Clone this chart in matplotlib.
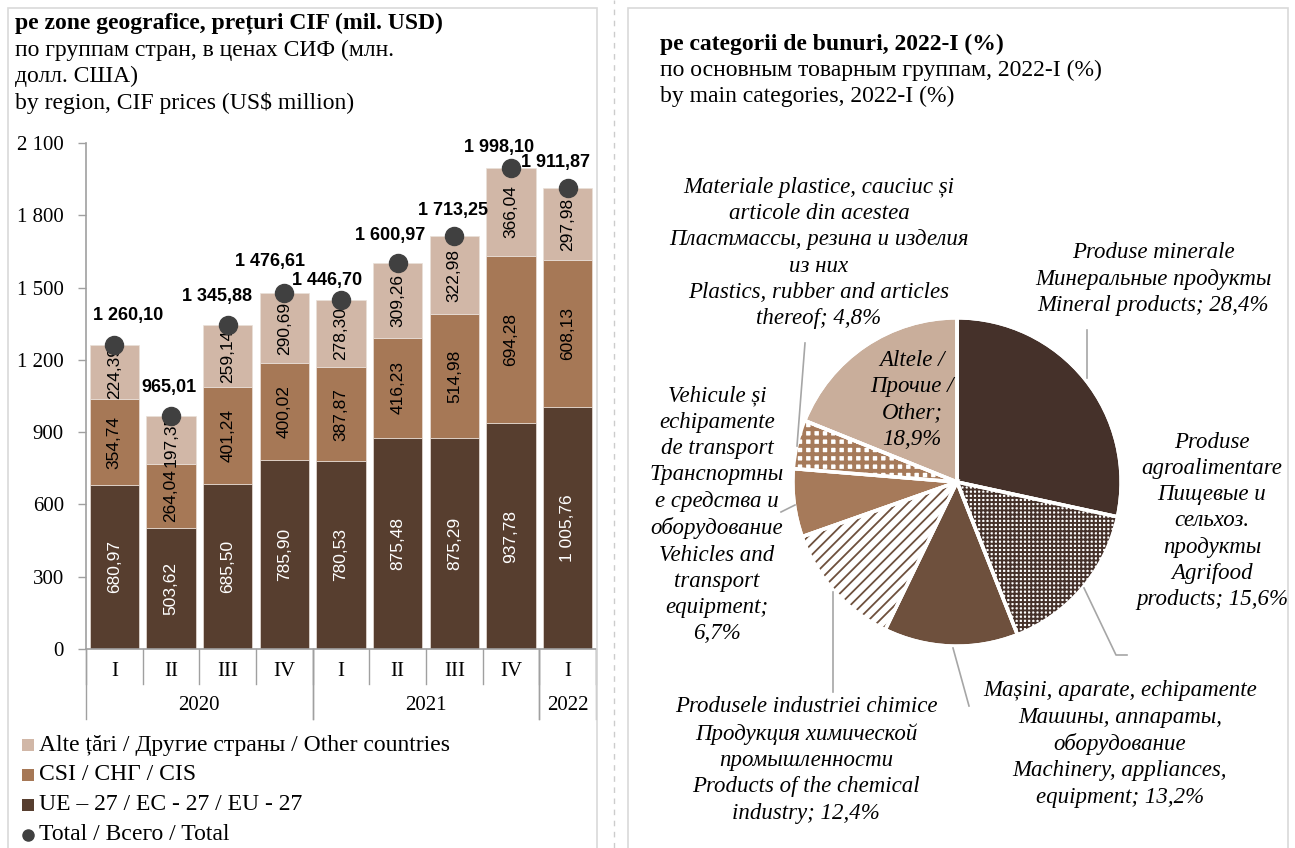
import numpy as np
import matplotlib
matplotlib.use('Agg')
import matplotlib.pyplot as plt
from matplotlib.patches import Rectangle
from matplotlib.lines import Line2D

#data - left chart (mil. USD)
quarters = ['I', 'II', 'III', 'IV', 'I', 'II', 'III', 'IV', 'I']
years = ['2020', '2021', '2022']
year_spans = [(0, 4), (4, 8), (8, 9)]
eu = [680.97, 503.62, 685.50, 785.90, 780.53, 875.48, 875.29, 937.78, 1005.76]
cis = [354.74, 264.04, 401.24, 400.02, 387.87, 416.23, 514.98, 694.28, 608.13]
other = [224.39, 197.35, 259.14, 290.69, 278.30, 309.26, 322.98, 366.04, 297.98]
total = [1260.10, 965.01, 1345.88, 1476.61, 1446.70, 1600.97, 1713.25, 1998.10, 1911.87]
legend_labels = ['Alte țări / Другие страны / Other countries', 'CSI / СНГ / CIS',
                 'UE – 27 / ЕС - 27 / EU - 27', 'Total / Всего / Total']

#data - right chart (%)
pie_shares = [28.4, 15.6, 13.2, 12.4, 6.7, 4.8, 18.9]
pie_labels = [
    'Produse minerale\nМинеральные продукты\nMineral products; 28,4%',
    'Produse\nagroalimentare\nПищевые и\nсельхоз.\nпродукты\nAgrifood\nproducts; 15,6%',
    'Mașini, aparate, echipamente\nМашины, аппараты,\nоборудование\nMachinery, appliances,\nequipment; 13,2%',
    'Produsele industriei chimice\nПродукция химической\nпромышленности\nProducts of the chemical\nindustry; 12,4%',
    'Vehicule și\nechipamente\nde transport\nТранспортны\nе средства и\nоборудование\nVehicles and\ntransport\nequipment;\n6,7%',
    'Materiale plastice, cauciuc și\narticole din acestea\nПластмассы, резина и изделия\nиз них\nPlastics, rubber and articles\nthereof; 4,8%',
    'Altele /\nПрочие /\nOther;\n18,9%',
]

c_eu, c_cis, c_other, c_tot = '#573e2f', '#a67856', '#d1b7a7', '#404040'
pie_colors = ['#45312a', '#45312a', '#6e503d', '#6e503d', '#a67a5a', '#a67a5a', '#c9ae9b']
pie_hatch = [None, '++++', None, '///', None, '++', None]
pie_hatch_lw = [0, 1.4, 0, 1.3, 0, 2.8, 0]

serif = ['Liberation Serif', 'DejaVu Serif']
narrow = ['Liberation Sans Narrow', 'Liberation Sans', 'DejaVu Sans']
W, H = 1295, 848
fs_title, fs_tick, fs_leg, fs_pie = 17, 15, 17, 16.5


def fmt(v, dec=2):
    s = f'{v:,.{dec}f}'
    return s.replace(',', ' ').replace('.', ',')


def fx(x):
    return x / W


def fy(y):
    return 1 - y / H


fig = plt.figure(figsize=(W / 100, H / 100), dpi=100)

#panel frames
fig.add_artist(Rectangle((fx(8), fy(852)), fx(589), 844 / H, fill=False, edgecolor='#d9d9d9', lw=1.2))
fig.add_artist(Rectangle((fx(628), fy(852)), fx(660), 844 / H, fill=False, edgecolor='#d9d9d9', lw=1.2))
fig.add_artist(Line2D([fx(614), fx(614)], [0, 1], color='#cccccc', lw=1, ls=(0, (4, 4))))

#titles
fig.text(fx(15), fy(23), 'pe zone geografice, prețuri CIF (mil. USD)', family=serif, fontsize=fs_title,
         fontweight='bold', va='center')
fig.text(fx(15), fy(50), 'по группам стран, в ценах СИФ (млн.', family=serif, fontsize=fs_title, va='center')
fig.text(fx(15), fy(76), 'долл. США)', family=serif, fontsize=fs_title, va='center')
fig.text(fx(15), fy(103), 'by region, CIF prices (US$ million)', family=serif, fontsize=fs_title, va='center')
fig.text(fx(660), fy(44), 'pe categorii de bunuri, 2022-I (%)', family=serif, fontsize=fs_title,
         fontweight='bold', va='center')
fig.text(fx(660), fy(70), 'по основным товарным группам, 2022-I (%)', family=serif, fontsize=fs_title, va='center')
fig.text(fx(660), fy(96), 'by main categories, 2022-I (%)', family=serif, fontsize=fs_title, va='center')

#stacked bars
ax = fig.add_axes([fx(86), fy(649), 510 / W, 506 / H])
x = np.arange(len(quarters))
eu_a, cis_a, oth_a = np.array(eu), np.array(cis), np.array(other)
bw = 0.87
ax.bar(x, eu_a, bw, color=c_eu, edgecolor='#e9e0d9', lw=0.5)
ax.bar(x, cis_a, bw, bottom=eu_a, color=c_cis, edgecolor='#e9e0d9', lw=0.5)
ax.bar(x, oth_a, bw, bottom=eu_a + cis_a, color=c_other, edgecolor='#e9e0d9', lw=0.5)
for i in range(len(x)):
    ax.text(x[i], eu_a[i] / 2, fmt(eu_a[i]), rotation=90, ha='center', va='center',
            color='white', family=narrow, fontsize=12.5)
    ax.text(x[i], eu_a[i] + cis_a[i] / 2, fmt(cis_a[i]), rotation=90, ha='center', va='center',
            color='black', family=narrow, fontsize=12.5)
    ax.text(x[i], eu_a[i] + cis_a[i] + oth_a[i] / 2, fmt(oth_a[i]), rotation=90, ha='center',
            va='center', color='black', family=narrow, fontsize=12.5)
ax.plot(x, total, 'o', ms=13, color=c_tot, zorder=5)
lab_off = [(14, 30), (-2, 29), (-11, 28), (-14, 32), (-14, 20), (-8, 28), (-1, 26), (-12, 20), (-12, 26)]
for i, t in enumerate(total):
    ax.annotate(fmt(t), (x[i], t), xytext=lab_off[i], textcoords='offset pixels', ha='center',
                va='center', family=narrow, fontsize=13, fontweight='bold', zorder=6)

ax.set_xlim(-0.5, len(x) - 0.5)
ax.set_ylim(0, 2100)
ax.set_yticks(np.arange(0, 2101, 300))
ax.set_yticklabels([fmt(v, 0) for v in np.arange(0, 2101, 300)], family=serif, fontsize=fs_tick)
ax.set_xticks([])
ax.tick_params(axis='y', direction='out', length=6, width=1, color='#a0a0a0', pad=10)
for s in ['top', 'right']:
    ax.spines[s].set_visible(False)
for s in ['left', 'bottom']:
    ax.spines[s].set_color('#a0a0a0')
    ax.spines[s].set_linewidth(1.2)

#two-level category axis
tr = ax.get_xaxis_transform()
ah = 506
for b in np.arange(-0.5, len(x)):
    ax.plot([b, b], [0, -35 / ah], color='#a0a0a0', lw=1, transform=tr, clip_on=False)
for i, q in enumerate(quarters):
    ax.text(x[i], -22 / ah, q, transform=tr, ha='center', va='center', family=serif, fontsize=fs_tick)
for yr, (a, b) in zip(years, year_spans):
    for e in (a - 0.5, b - 0.5):
        ax.plot([e, e], [0, -70 / ah], color='#a0a0a0', lw=1, transform=tr, clip_on=False)
    ax.text((a + b - 1) / 2, -57 / ah, yr, transform=tr, ha='center', va='center', family=serif, fontsize=fs_tick)

#legend
leg_y = [745, 775, 805, 835]
for lab, c, yy in zip(legend_labels[:3], [c_other, c_cis, c_eu], leg_y[:3]):
    fig.add_artist(Rectangle((fx(22), fy(yy + 6)), 12 / W, 12 / H, color=c, lw=0))
    fig.text(fx(39), fy(yy), lab, family=serif, fontsize=fs_leg, va='center')
fig.add_artist(Line2D([fx(28)], [fy(leg_y[3])], marker='o', ms=8, color=c_tot, lw=0))
fig.text(fx(39), fy(leg_y[3]), legend_labels[3], family=serif, fontsize=fs_leg, va='center')

#pie chart
pax = fig.add_axes([fx(957 - 165), fy(482 + 165), 330 / W, 330 / H])
wedges, _ = pax.pie(pie_shares, colors=pie_colors, startangle=90, counterclock=False, radius=0.995,
                    wedgeprops=dict(edgecolor='white', linewidth=2.5))
for w, h, c, hl in zip(wedges, pie_hatch, pie_colors, pie_hatch_lw):
    if h:
        w.set_facecolor('white')
        w.set_hatch(h)
        w.set_edgecolor(c)
        w.set_linewidth(0)
        if hasattr(w, 'set_hatch_linewidth'):
            w.set_hatch_linewidth(hl)
pax.pie(pie_shares, colors=['none'] * len(pie_shares), startangle=90, counterclock=False, radius=0.995,
        wedgeprops=dict(fill=False, edgecolor='white', linewidth=2.5))
pax.set_xlim(-1, 1)
pax.set_ylim(-1, 1)

lab_pos = [(1153, 279), (1212, 521), (1120, 744), (806, 760), (717, 515), (819, 253), (912, 400)]
for lab, (px, py) in zip(pie_labels, lab_pos):
    fig.text(fx(px), fy(py), lab, family=serif, style='italic', fontsize=fs_pie, ha='center', va='center',
             multialignment='center', linespacing=1.33)

leaders = [
    [(1087, 330), (1087, 378)],
    [(1084, 588), (1116, 655), (1127, 655)],
    [(953, 648), (969, 706)],
    [(833, 592), (833, 692)],
    [(795, 505), (781, 512)],
    [(805, 343), (797, 446)],
]
for pts in leaders:
    xs = [fx(p[0]) for p in pts]
    ys = [fy(p[1]) for p in pts]
    fig.add_artist(Line2D(xs, ys, color='#a6a6a6', lw=1.2))

fig.savefig('out.png', dpi=100)
